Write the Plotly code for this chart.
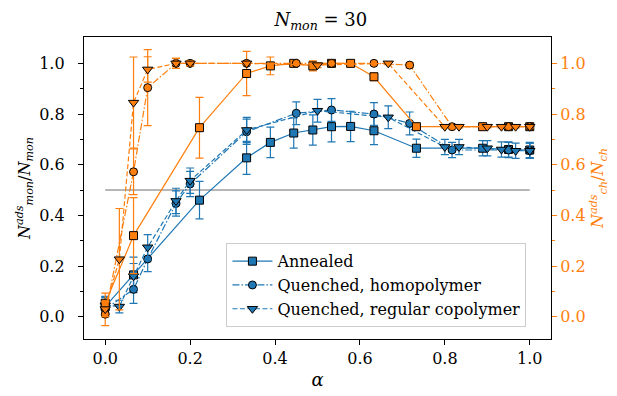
import plotly.graph_objects as go

BLUE = "#1f77b4"
ORANGE = "#ff7f0e"
FONT = "DejaVu Serif"

# Annealed
alpha_ann = [0.0, 0.0667, 0.222, 0.333, 0.389, 0.444, 0.489, 0.533, 0.578, 0.633, 0.733, 0.889, 0.95, 1.0]
mon_ann = [0.04, 0.165, 0.46, 0.627, 0.688, 0.725, 0.737, 0.75, 0.751, 0.734, 0.665, 0.665, 0.66, 0.658]
mon_ann_err = [0.04, 0.07, 0.074, 0.065, 0.06, 0.06, 0.06, 0.06, 0.06, 0.055, 0.036, 0.03, 0.03, 0.03]
ch_ann = [0.053, 0.32, 0.746, 0.96, 0.99, 1.0, 0.99, 1.0, 1.0, 0.947, 0.75, 0.75, 0.75, 0.75]
ch_ann_err = [0.04, 0.15, 0.12, 0.087, 0.035, 0.01, 0.02, 0.005, 0.01, 0.015, 0.01, 0.005, 0.005, 0.005]

# Quenched, homopolymer
alpha_hom = [0.0, 0.0667, 0.1, 0.1667, 0.2, 0.333, 0.45, 0.533, 0.633, 0.717, 0.817, 0.95, 1.0]
mon_hom = [0.03, 0.108, 0.228, 0.447, 0.524, 0.73, 0.803, 0.816, 0.80, 0.763, 0.658, 0.658, 0.655]
mon_hom_err = [0.03, 0.055, 0.05, 0.05, 0.05, 0.05, 0.045, 0.045, 0.045, 0.045, 0.03, 0.03, 0.03]
ch_hom = [0.01, 0.572, 0.904, 1.0, 1.0, 1.0, 1.0, 1.0, 1.0, 0.993, 0.75, 0.75, 0.75]
ch_hom_err = [0.045, 0.09, 0.15, 0.02, 0.01, 0.005, 0.005, 0.005, 0.005, 0.01, 0.005, 0.005, 0.005]

# Quenched, regular copolymer
alpha_cop = [0.0, 0.0333, 0.0667, 0.1, 0.1667, 0.2, 0.3333, 0.5, 0.6667, 0.8, 0.8333, 0.9, 0.9333, 0.9667, 1.0]
mon_cop = [0.045, 0.04, 0.16, 0.274, 0.457, 0.537, 0.737, 0.813, 0.787, 0.67, 0.67, 0.665, 0.66, 0.655, 0.655]
mon_cop_err = [0.03, 0.025, 0.05, 0.05, 0.05, 0.05, 0.05, 0.045, 0.045, 0.03, 0.03, 0.03, 0.03, 0.03, 0.03]
ch_cop = [0.03, 0.227, 0.845, 0.976, 1.0, 1.0, 1.0, 0.993, 1.0, 0.75, 0.75, 0.75, 0.75, 0.75, 0.75]
ch_cop_err = [0.03, 0.2, 0.18, 0.05, 0.02, 0.01, 0.005, 0.01, 0.005, 0.005, 0.005, 0.005, 0.005, 0.005, 0.005]

# reference line
ref_x = [0.0, 1.0]
ref_y = [0.5, 0.5]

x_ticks = [0.0, 0.2, 0.4, 0.6, 0.8, 1.0]
y_ticks = [0.0, 0.2, 0.4, 0.6, 0.8, 1.0]
y_minor = [0.1, 0.3, 0.5, 0.7, 0.9]

SERIES = [
    ("Annealed", alpha_ann, mon_ann, mon_ann_err, ch_ann, ch_ann_err, "square", "solid", 8),
    ("Quenched, homopolymer", alpha_hom, mon_hom, mon_hom_err, ch_hom, ch_hom_err, "circle", "7px,2px,1.5px,2px", 8),
    ("Quenched, regular copolymer", alpha_cop, mon_cop, mon_cop_err, ch_cop, ch_cop_err, "triangle-down", "5px,2.5px", 9),
]

fig = go.Figure()

fig.add_trace(go.Scatter(x=ref_x, y=ref_y, mode="lines",
                         line=dict(color="#6e6e6e", width=1), showlegend=False, hoverinfo="skip"))

for name, a, m, me, c, ce, sym, dash, ms in SERIES:
    fig.add_trace(go.Scatter(
        x=a, y=m, mode="lines+markers", name=name,
        line=dict(color=BLUE, width=1.2, dash=dash),
        marker=dict(symbol=sym, size=ms, color=BLUE, line=dict(color="black", width=1)),
        error_y=dict(type="data", array=me, color=BLUE, thickness=1.2, width=4),
        yaxis="y",
    ))

for name, a, m, me, c, ce, sym, dash, ms in SERIES:
    fig.add_trace(go.Scatter(
        x=a, y=c, mode="lines+markers", name=name, showlegend=False,
        line=dict(color=ORANGE, width=1.2, dash=dash),
        marker=dict(symbol=sym, size=ms, color=ORANGE, line=dict(color="black", width=1)),
        error_y=dict(type="data", array=ce, color=ORANGE, thickness=1.2, width=4),
        yaxis="y2",
    ))

YR = [-0.088, 1.104]

fig.update_layout(
    width=617, height=396,
    margin=dict(l=84, r=66, t=37, b=57, autoexpand=False),
    paper_bgcolor="white", plot_bgcolor="white",
    font=dict(family=FONT, size=16, color="black"),
    title=dict(text="<i>N</i><sub><i>mon</i></sub> = 30", x=0.52, xanchor="center",
               y=0.95, yanchor="middle", font=dict(family=FONT, size=18)),
    xaxis=dict(range=[-0.05, 1.05], tickvals=x_ticks, ticktext=[f"{v:.1f}" for v in x_ticks],
               ticks="outside", ticklen=5, tickwidth=1, tickcolor="black",
               showline=True, linecolor="black", linewidth=1.3, mirror=True,
               showgrid=False, zeroline=False, automargin=False,
               tickfont=dict(family=FONT, size=16),
               title=dict(text="<i>α</i>", standoff=6, font=dict(family=FONT, size=18))),
    yaxis=dict(range=YR, tickvals=y_ticks, ticktext=[f"{v:.1f}" for v in y_ticks],
               ticks="outside", ticklen=5, tickwidth=1, tickcolor="black",
               minor=dict(tickvals=y_minor, ticks="outside", ticklen=3, tickcolor="black"),
               showline=True, linecolor="black", linewidth=1.3, mirror=True,
               showgrid=False, zeroline=False, ticklabelstandoff=10, automargin=False,
               tickfont=dict(family=FONT, size=16),
               title=dict(text="<i>N</i><sup><i>ads</i></sup><sub><i>mon</i></sub>/<i>N</i><sub><i>mon</i></sub>",
                          standoff=4, font=dict(family=FONT, size=16))),
    yaxis2=dict(range=YR, overlaying="y", side="right", tickvals=y_ticks,
                ticktext=[f"{v:.1f}" for v in y_ticks],
                ticks="outside", ticklen=5, tickwidth=1, tickcolor=ORANGE,
                minor=dict(tickvals=y_minor, ticks="outside", ticklen=3, tickcolor=ORANGE),
                tickfont=dict(family=FONT, size=16, color=ORANGE),
                showline=False, showgrid=False, zeroline=False, automargin=False,
                title=dict(text="<i>N</i><sup><i>ads</i></sup><sub><i>ch</i></sub>/<i>N</i><sub><i>ch</i></sub>",
                           font=dict(family=FONT, size=16, color=ORANGE), standoff=7)),
    legend=dict(x=0.305, y=0.317, xanchor="left", yanchor="top",
                bgcolor="rgba(255,255,255,0.85)", bordercolor="#cccccc", borderwidth=1,
                font=dict(family=FONT, size=16), itemwidth=40, tracegroupgap=0),
    showlegend=True,
)

fig.write_html("out.html")
